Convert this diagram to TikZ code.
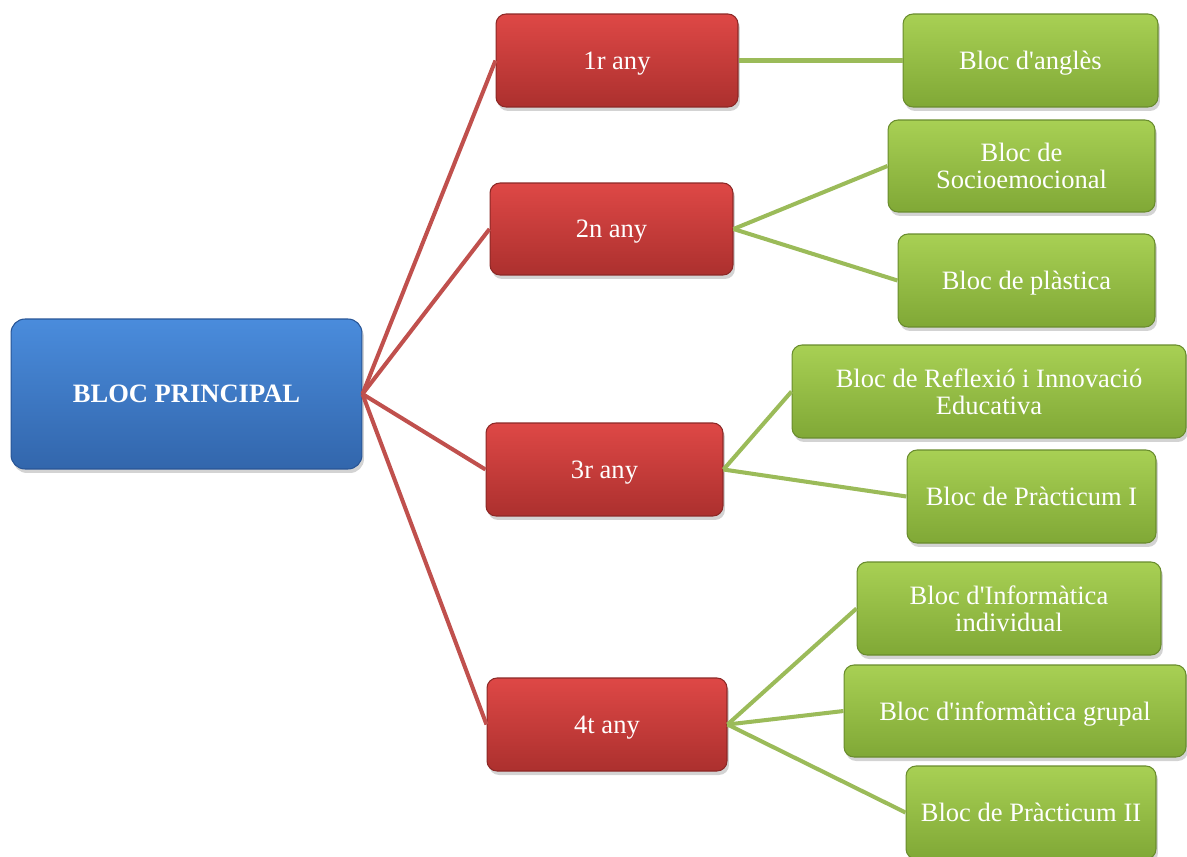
\documentclass[tikz,border=0pt]{standalone}
\usepackage{fontspec}
\setmainfont{Liberation Serif}[Ligatures=TeXOff]
\usetikzlibrary{shadows}
\definecolor{bluetop}{RGB}{74,140,220}
\definecolor{bluebot}{RGB}{50,102,172}
\definecolor{blueedge}{RGB}{40,85,150}
\definecolor{redtop}{RGB}{222,72,70}
\definecolor{redbot}{RGB}{172,48,46}
\definecolor{rededge}{RGB}{140,40,38}
\definecolor{greentop}{RGB}{168,208,84}
\definecolor{greenbot}{RGB}{128,168,54}
\definecolor{greenedge}{RGB}{105,140,45}
\definecolor{redline}{RGB}{192,80,77}
\definecolor{greenline}{RGB}{155,187,89}
\tikzset{
  boxbase/.style={rounded corners=0.2cm, inner sep=2pt, align=center, text=white,
    font=\fontsize{15.1}{15.4}\selectfont,
    drop shadow={opacity=0.35, shadow xshift=0.04cm, shadow yshift=-0.08cm}},
  oneline/.style={text depth=0pt},
  bluebox/.style={boxbase, draw=blueedge, line width=0.6pt, top color=bluetop, bottom color=bluebot, rounded corners=0.28cm},
  redbox/.style={boxbase, oneline, draw=rededge, line width=0.6pt, top color=redtop, bottom color=redbot},
  greenbox/.style={boxbase, draw=greenedge, line width=0.6pt, top color=greentop, bottom color=greenbot},
  redlink/.style={draw=redline, line width=2.3pt},
  greenlink/.style={draw=greenline, line width=2.3pt}
}
\begin{document}
\begin{tikzpicture}[x=0.02cm, y=-0.02cm]
\useasboundingbox (0,0) rectangle (1187,856);
\node[bluebox, minimum width=7.02cm, minimum height=3.0cm] (main) at (186.5,394) {\textbf{BLOC PRINCIPAL}};
\node[redbox, minimum width=4.84cm, minimum height=1.86cm] (r1) at (617,60.5) {1r any};
\node[redbox, minimum width=4.86cm, minimum height=1.84cm] (r2) at (611.5,229) {2n any};
\node[redbox, minimum width=4.74cm, minimum height=1.86cm] (r3) at (604.5,469.5) {3r any};
\node[redbox, minimum width=4.80cm, minimum height=1.86cm] (r4) at (607,724.5) {4t any};
\node[greenbox, oneline, minimum width=5.10cm, minimum height=1.86cm] (g1) at (1030.5,60.5) {Bloc d'anglès};
\node[greenbox, minimum width=5.34cm, minimum height=1.84cm] (g2) at (1021.5,166) {Bloc de\\Socioemocional};
\node[greenbox, oneline, minimum width=5.14cm, minimum height=1.86cm] (g3) at (1026.5,280.5) {Bloc de plàstica};
\node[greenbox, minimum width=7.88cm, minimum height=1.86cm] (g4) at (989,391.5) {Bloc de Reflexió i Innovació\\Educativa};
\node[greenbox, oneline, minimum width=4.98cm, minimum height=1.86cm] (g5) at (1031.5,496.5) {Bloc de Pràcticum I};
\node[greenbox, minimum width=6.08cm, minimum height=1.86cm] (g6) at (1009,608.5) {Bloc d'Informàtica\\individual};
\node[greenbox, oneline, minimum width=6.84cm, minimum height=1.84cm] (g7) at (1015,711) {Bloc d'informàtica grupal};
\node[greenbox, oneline, minimum width=5.00cm, minimum height=1.86cm] (g8) at (1031,812.5) {Bloc de Pràcticum II};
\draw[redlink] (main.east) -- (r1.west);
\draw[redlink] (main.east) -- (r2.west);
\draw[redlink] (main.east) -- (r3.west);
\draw[redlink] (main.east) -- (r4.west);
\draw[greenlink] (r1.east) -- (g1.west);
\draw[greenlink] (r2.east) -- (g2.west);
\draw[greenlink] (r2.east) -- (g3.west);
\draw[greenlink] (r3.east) -- (g4.west);
\draw[greenlink] (r3.east) -- (g5.west);
\draw[greenlink] (r4.east) -- (g6.west);
\draw[greenlink] (r4.east) -- (g7.west);
\draw[greenlink] (r4.east) -- (g8.west);
\end{tikzpicture}
\end{document}
